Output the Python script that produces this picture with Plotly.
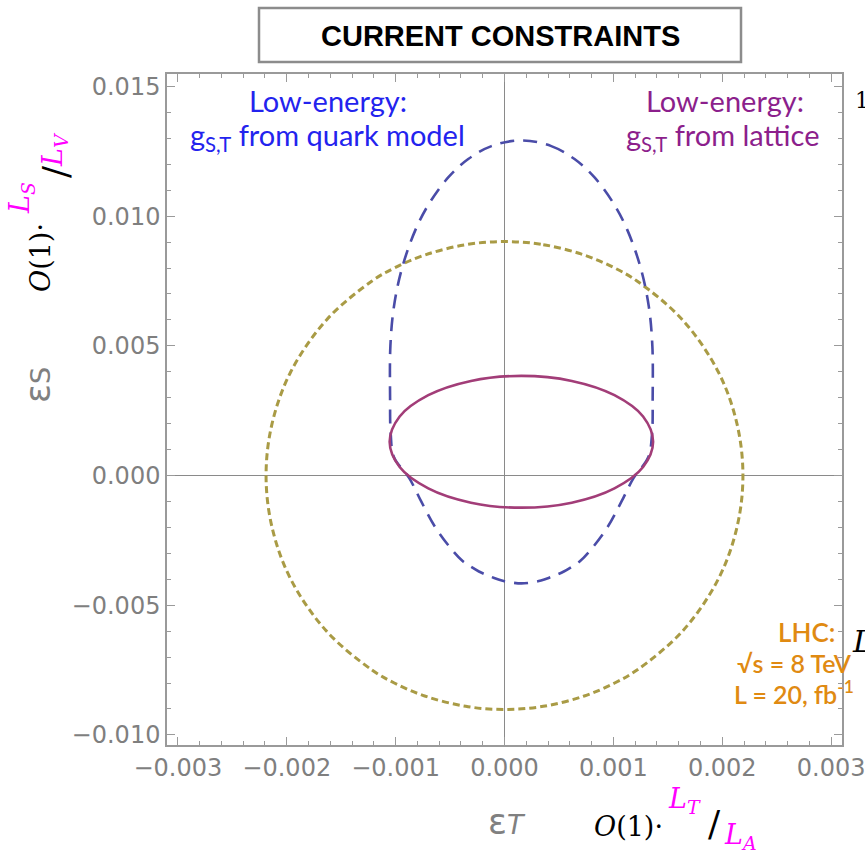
import numpy as np
import plotly.graph_objects as go

# ---------------- data (values in units of 1e-3) ----------------
lhc_eT = [0.0, 0.356, 0.733, 1.012, 1.217, 1.635, 1.963, 2.135, 2.19, 2.135, 1.963, 1.635, 1.217, 1.012, 0.733, 0.356, 0.0,
          -0.356, -0.733, -1.012, -1.217, -1.635, -1.963, -2.135, -2.19, -2.135, -1.963, -1.635, -1.217, -1.012, -0.733, -0.356, 0.0]
lhc_eS = [9.02, 8.9, 8.5, 8.0, 7.5, 6.0, 4.0, 2.0, 0.0, -2.0, -4.0, -6.0, -7.5, -8.0, -8.5, -8.9, -9.02,
          -8.9, -8.5, -8.0, -7.5, -6.0, -4.0, -2.0, 0.0, 2.0, 4.0, 6.0, 7.5, 8.0, 8.5, 8.9, 9.02]

quark_eT = [0.155, 0.430, 0.643, 0.825, 1.000, 1.125, 1.251, 1.326, 1.358, 1.361, 1.355, 1.320, 1.185, 1.075,
            0.945, 0.805, 0.695, 0.625, 0.545, 0.465, 0.405, 0.335, 0.285, 0.155,
            0.025, -0.025, -0.095, -0.155, -0.235, -0.315, -0.385, -0.495, -0.635, -0.765, -0.875, -1.015,
            -1.045, -1.051, -1.048, -1.016, -0.941, -0.815, -0.690, -0.515, -0.333, -0.120, 0.155]
quark_eS = [12.92, 12.70, 12.20, 11.50, 10.50, 9.50, 8.00, 6.50, 5.00, 3.00, 1.60, 0.70, -0.10, -1.00,
            -2.00, -2.80, -3.30, -3.50, -3.70, -3.85, -3.95, -4.05, -4.10, -4.16,
            -4.10, -4.05, -3.95, -3.85, -3.70, -3.50, -3.30, -2.80, -2.00, -1.00, -0.10, 0.70,
            1.60, 3.00, 5.00, 6.50, 8.00, 9.50, 10.50, 11.50, 12.20, 12.70, 12.92]

lattice_eT = [0.155, 0.618, 1.010, 1.273, 1.365, 1.273, 1.010, 0.618, 0.155, -0.308, -0.700, -0.963, -1.055,
              -0.963, -0.700, -0.308, 0.155]
lattice_eS = [3.84, 3.647, 3.096, 2.273, 1.30, 0.327, -0.496, -1.047, -1.24, -1.047, -0.496, 0.327, 1.30,
              2.273, 3.096, 3.647, 3.84]

x_tickvals = [-0.003, -0.002, -0.001, 0.0, 0.001, 0.002, 0.003]
x_ticktext = ["\u22120.003", "\u22120.002", "\u22120.001", "0.000", "0.001", "0.002", "0.003"]
y_tickvals = [-0.010, -0.005, 0.0, 0.005, 0.010, 0.015]
y_ticktext = ["\u22120.010", "\u22120.005", "0.000", "0.005", "0.010", "0.015"]

MILLI = 1e-3

# ---------------- figure ----------------
W, H = 865, 860
L, R, T, B = 167, 842, 74, 745


def px(x):
    return (x - L) / (R - L)


def py(y):
    return (B - y) / (B - T)


fig = go.Figure()
fig.add_trace(go.Scatter(x=np.array(lhc_eT) * MILLI, y=np.array(lhc_eS) * MILLI, mode="lines",
                         line=dict(color="#a99b45", width=3, dash="7px,4px", shape="spline"),
                         hoverinfo="skip", showlegend=False))
fig.add_trace(go.Scatter(x=np.array(quark_eT) * MILLI, y=np.array(quark_eS) * MILLI, mode="lines",
                         line=dict(color="#4a4ca8", width=2.6, dash="14px,9px", shape="spline"),
                         hoverinfo="skip", showlegend=False))
fig.add_trace(go.Scatter(x=np.array(lattice_eT) * MILLI, y=np.array(lattice_eS) * MILLI, mode="lines",
                         line=dict(color="#a23d78", width=2.6, shape="spline"),
                         hoverinfo="skip", showlegend=False))

axis_common = dict(showline=True, linecolor="#9a9a9a", linewidth=1.5, mirror="ticks",
                   ticks="inside", tickcolor="#9a9a9a", tickwidth=1.2, ticklen=8, automargin=False,
                   ticklabeloverflow="allow",
                   showgrid=False, zeroline=True, zerolinecolor="#8a8a8a", zerolinewidth=1.4,
                   tickfont=dict(family="DejaVu Sans", size=24, color="#7f7f7f"))

fig.update_xaxes(range=[-0.0031, 0.0031], tickmode="array", tickvals=x_tickvals, ticktext=x_ticktext,
                 minor=dict(dtick=0.0002, ticks="inside", ticklen=4, tickcolor="#9a9a9a", showgrid=False),
                 **axis_common)
fig.update_yaxes(range=[-0.01039, 0.01548], tickmode="array", tickvals=y_tickvals, ticktext=y_ticktext,
                 minor=dict(dtick=0.001, ticks="inside", ticklen=4, tickcolor="#9a9a9a", showgrid=False),
                 **axis_common)

# title box
fig.add_shape(type="rect", xref="paper", yref="paper", x0=px(259), x1=px(741), y0=py(62), y1=py(8),
              line=dict(color="#8c8c8c", width=2.5), fillcolor="white", layer="above")

ann = []


def text(x, y, s, size, color, family="Lato", xanchor="center", angle=0, weight="normal"):
    ann.append(dict(x=px(x), y=py(y), xref="paper", yref="paper", text=s, showarrow=False,
                    xanchor=xanchor, yanchor="middle", textangle=angle,
                    font=dict(family=family, size=size, color=color, weight=weight)))


text(500, 36, "<b>CURRENT CONSTRAINTS</b>", 29, "black", family="Liberation Sans")

BLUE = "#2323ee"
PURP = "#8c1f8c"
ORNG = "#e08a12"
text(328, 100, "Low-energy:", 29, BLUE)
text(327, 137, "g<sub>S,T</sub> from quark model", 29, BLUE)
text(725, 100, "Low-energy:", 29, PURP)
text(722, 137, "g<sub>S,T</sub> from lattice", 29, PURP)

text(806, 632, "LHC:", 26, ORNG, weight=600)
text(794, 663, "\u221As = 8 TeV", 25, ORNG, weight=600)
text(794, 692, "L = 20, fb<sup>-1</sup>", 25, ORNG, weight=600)

GRAY = "#808080"
text(38, 385, "\u03b5<span style='font-size:27px'>S</span>", 35, GRAY, family="DejaVu Sans", angle=-90)
text(507, 822, "\u03b5<span style='font-size:27px'><i>T</i></span>", 35, GRAY, family="DejaVu Sans")

MAG = "#ff00ff"
SERIF = "DejaVu Serif"
# bottom O(1)·L_T/L_A
text(628, 826, "<i>O</i>(1)\u00b7", 27, "black", family=SERIF)
text(684, 800, "<i>L</i><sub><i>T</i></sub>", 27, MAG, family=SERIF)
text(714, 823, "/", 36, "black", family=SERIF)
text(740, 836, "<i>L</i><sub><i>A</i></sub>", 27, MAG, family=SERIF)
# left rotated O(1)·L_S/L_V
text(40, 258, "<i>O</i>(1)\u00b7", 27, "black", family=SERIF, angle=-90)
text(21, 198, "<i>L</i><sub><i>S</i></sub>", 27, MAG, family=SERIF, angle=-90)
text(55, 172, "/", 36, "black", family=SERIF, angle=-90)
text(54, 150, "<i>L</i><sub><i>V</i></sub>", 27, MAG, family=SERIF, angle=-90)

# glyphs cut at right edge
text(853, 100, "1", 22, "black", family=SERIF, xanchor="left")
text(850, 641, "<i>L</i>", 30, "black", family=SERIF, xanchor="left")

fig.update_layout(width=W, height=H, margin=dict(l=L, r=W - R, t=T, b=H - B),
                  paper_bgcolor="white", plot_bgcolor="white", annotations=ann, showlegend=False)

fig.write_html("out.html", config={"displayModeBar": False},
               post_script="document.body.style.margin='0';document.body.style.overflow='hidden';")
